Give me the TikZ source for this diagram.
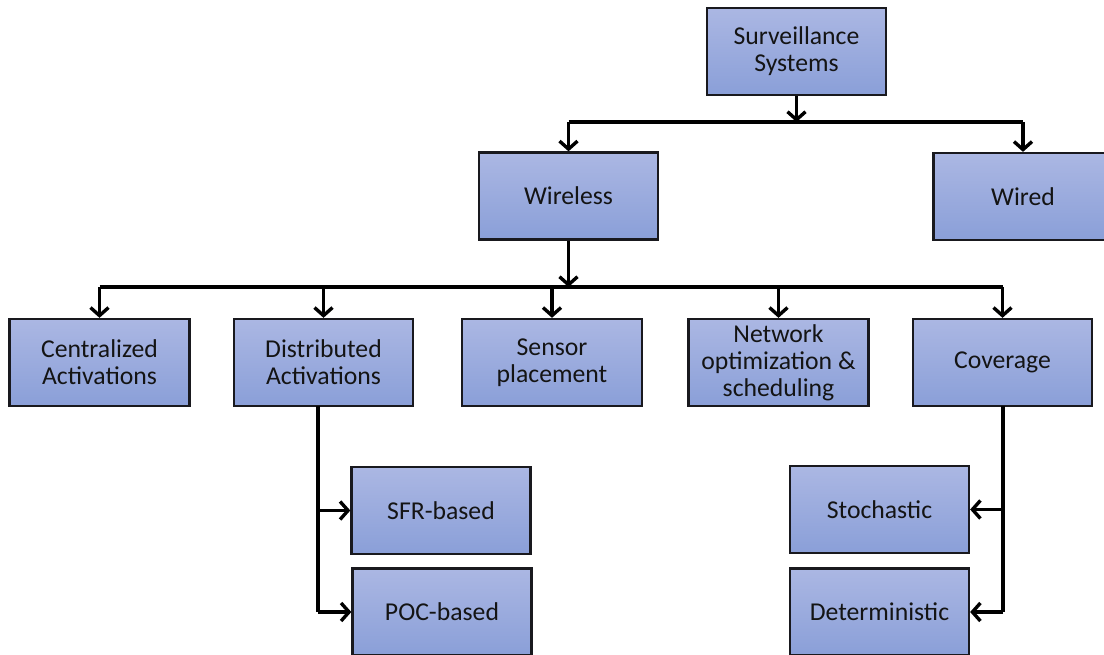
\documentclass[tikz,border=0pt]{standalone}
\usepackage{fontspec}
\setmainfont{Carlito}
\usetikzlibrary{arrows.meta}
\definecolor{boxtop}{RGB}{171,183,227}
\definecolor{boxbot}{RGB}{138,159,216}
\definecolor{edgecol}{RGB}{25,25,30}
\definecolor{txt}{RGB}{20,20,20}
\begin{document}
\begin{tikzpicture}[x=1pt,y=-1pt,
  box/.style={draw=edgecol, line width=2.3pt, top color=boxtop, bottom color=boxbot,
    minimum width=179pt, minimum height=87pt, inner sep=0pt, align=center,
    text=txt, font=\fontsize{25.7}{27}\selectfont},
  conn/.style={line width=3.4pt, draw=black},
  arr/.style={conn, -{Straight Barb[length=8pt,width=18pt]}}]
\useasboundingbox[fill=white] (0,0) rectangle (1104,654);

% level 0-1
\node[box] (surv) at (796.5,51.5) {Surveillance\\Systems};
\node[box] (wireless) at (568.5,196) {Wireless};
\node[box] (wired) at (1023,196.5) {Wired};

% level 2
\node[box, minimum width=180pt] (cent) at (99.5,362.5) {Centralized\\Activations};
\node[box] (dist) at (323.5,362.5) {Distributed\\Activations};
\node[box, minimum width=180pt] (sensor) at (552,362.5) {Sensor\\placement};
\node[box, minimum width=180pt] (net) at (778.5,362.5) {Network\\optimization \&\\scheduling};
\node[box] (cov) at (1002.5,362.5) {Coverage};

% level 3
\node[box] (sfr) at (441,510.5) {SFR-based};
\node[box] (poc) at (442,612) {POC-based};
\node[box] (sto) at (879.5,509.5) {Stochastic};
\node[box] (det) at (879.5,612) {Deterministic};

% bus coordinates
\coordinate (bus1) at (0,122);
\coordinate (bus2) at (0,287);

% surveillance -> bus
\draw[arr] (surv.south) -- (surv.south |- bus1);
\draw[conn] (wireless.north |- bus1) -- (wired.north |- bus1);
\draw[arr] (wireless.north |- bus1) -- (wireless.north);
\draw[arr] (wired.north |- bus1) -- (wired.north);

% wireless -> bus2
\draw[arr] (wireless.south) -- (wireless.south |- bus2);
\draw[conn] (cent.north |- bus2) -- (cov.north |- bus2);
\foreach \n in {cent,dist,sensor,net,cov}
  \draw[arr] (\n.north |- bus2) -- (\n.north);

% distributed branch
\coordinate (dtrunk) at (318,406);
\draw[conn] (dtrunk) -- (dtrunk |- poc.west);
\draw[arr] (dtrunk |- sfr.west) -- (sfr.west);
\draw[arr] (dtrunk |- poc.west) -- (poc.west);

% coverage branch
\coordinate (ctrunk) at (1003,406);
\draw[conn] (ctrunk) -- (ctrunk |- det.east);
\draw[arr] (ctrunk |- sto.east) -- (sto.east);
\draw[arr] (ctrunk |- det.east) -- (det.east);
\end{tikzpicture}
\end{document}
